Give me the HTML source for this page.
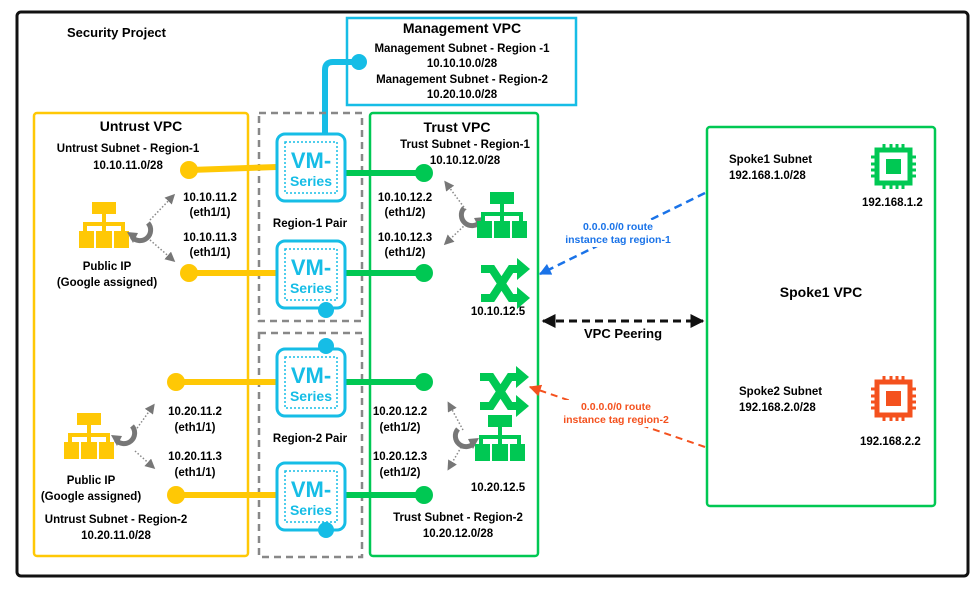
<!DOCTYPE html>
<html><head><meta charset="utf-8"><style>
html,body{margin:0;padding:0;background:#fff;}
svg{display:block;font-family:"Liberation Sans",sans-serif;font-weight:bold;}
</style></head><body>
<svg width="975" height="592" viewBox="0 0 975 592" xmlns="http://www.w3.org/2000/svg">
<defs>
<g id="net">
<rect x="13" y="0" width="24" height="12"/><rect x="23" y="11" width="4" height="11"/>
<rect x="4" y="20" width="42" height="4"/>
<rect x="4" y="22" width="4" height="8"/><rect x="23" y="22" width="4" height="8"/><rect x="42" y="22" width="4" height="8"/>
<rect x="0" y="29" width="15" height="17"/><rect x="17" y="29" width="16" height="17"/><rect x="35" y="29" width="15" height="17"/>
</g>
<g id="shuf" fill="none" stroke-width="8">
<path d="M0,8 H11 L30,37 H40"/><path d="M0,37 H11 L30,8 H40"/>
</g>
<g id="shufh"><path d="M36,-3 L49,8 L36,19Z"/><path d="M36,26 L49,37 L36,48Z"/></g>
<g id="chip">
<rect x="6" y="6" width="33" height="33" fill="none" stroke-width="5"/><rect x="15" y="15" width="15" height="15" stroke="none"/>
<path d="M13,0V6M20,0V6M26,0V6M32,0V6M13,39V45M20,39V45M26,39V45M32,39V45M0,13H6M0,20H6M0,26H6M0,32H6M39,13H45M39,20H45M39,26H45M39,32H45" fill="none" stroke-width="3"/>
</g>
<g id="vm">
<rect x="0" y="0" width="68" height="67" rx="8" fill="#fff" stroke="#16bde6" stroke-width="3"/>
<rect x="8" y="8" width="52" height="51" fill="none" stroke="#16bde6" stroke-width="1.5" stroke-dasharray="2,2"/>
<text x="34" y="34" font-size="22" fill="#16bde6" text-anchor="middle" font-weight="bold">VM-</text>
<text x="34" y="52" font-size="14" fill="#16bde6" text-anchor="middle" font-weight="bold">Series</text>
</g>
<g id="ref" fill="none" stroke="#777">
<path d="M7,-8 A10.5,10.5 0 1 1 -9,6" stroke-width="5"/>
<path d="M-14,1 L-8,12 L-3,2Z" fill="#777" stroke="none"/>
</g>
<marker id="ga" markerWidth="10" markerHeight="10" refX="7" refY="5" orient="auto" markerUnits="userSpaceOnUse" viewBox="0 0 10 10"><path d="M0,0L10,5L0,10Z" fill="#777"/></marker>
<marker id="ba" viewBox="0 0 10 10" refX="9" refY="5" markerWidth="12" markerHeight="12" orient="auto" markerUnits="userSpaceOnUse"><path d="M0,0L10,5L0,10Z" fill="#1a73e8"/></marker>
<marker id="oa" viewBox="0 0 10 10" refX="9" refY="5" markerWidth="12" markerHeight="12" orient="auto" markerUnits="userSpaceOnUse"><path d="M0,0L10,5L0,10Z" fill="#f4511e"/></marker>
<marker id="ka" viewBox="0 0 10 10" refX="9" refY="5" markerWidth="14" markerHeight="14" orient="auto-start-reverse" markerUnits="userSpaceOnUse"><path d="M0,0L10,5L0,10Z" fill="#111"/></marker>
</defs>

<rect x="17" y="12" width="951" height="564" rx="4" fill="#fff" stroke="#111" stroke-width="3"/>
<text x="67" y="37" font-size="13">Security Project</text>

<!-- management -->
<rect x="347" y="18" width="229" height="87" fill="#fff" stroke="#16bde6" stroke-width="2.5"/>
<g font-size="11.5" text-anchor="middle">
<text x="462" y="33" font-size="14">Management VPC</text>
<text x="462" y="52">Management Subnet - Region -1</text>
<text x="462" y="67">10.10.10.0/28</text>
<text x="462" y="83">Management Subnet - Region-2</text>
<text x="462" y="98">10.20.10.0/28</text>
</g>
<path d="M325,134 V70 Q325,62 333,62 H357" fill="none" stroke="#16bde6" stroke-width="6"/>
<circle cx="359" cy="62" r="8" fill="#16bde6"/>

<!-- containers -->
<rect x="34" y="113" width="214" height="443" rx="3" fill="none" stroke="#ffc805" stroke-width="2.5"/>
<rect x="259" y="113" width="103" height="208" fill="none" stroke="#888" stroke-width="2.5" stroke-dasharray="7,5"/>
<rect x="259" y="333" width="103" height="224" fill="none" stroke="#888" stroke-width="2.5" stroke-dasharray="7,5"/>
<rect x="370" y="113" width="168" height="443" rx="3" fill="none" stroke="#00c853" stroke-width="2.5"/>
<rect x="707" y="127" width="228" height="379" rx="3" fill="none" stroke="#00c853" stroke-width="2.5"/>

<!-- lines -->
<g stroke-width="6">
<path d="M190,170 L277,167" stroke="#ffc805"/><path d="M190,273 H277" stroke="#ffc805"/>
<path d="M176,382 H277" stroke="#ffc805"/><path d="M176,495 H277" stroke="#ffc805"/>
<path d="M345,173 H423" stroke="#00c853"/><path d="M345,273 H423" stroke="#00c853"/>
<path d="M345,382 H423" stroke="#00c853"/><path d="M345,495 H423" stroke="#00c853"/>
</g>
<g fill="#ffc805"><circle cx="189" cy="170" r="9"/><circle cx="189" cy="273" r="9"/><circle cx="176" cy="382" r="9"/><circle cx="176" cy="495" r="9"/></g>
<g fill="#00c853"><circle cx="424" cy="173" r="9"/><circle cx="424" cy="273" r="9"/><circle cx="424" cy="382" r="9"/><circle cx="424" cy="495" r="9"/></g>

<use href="#vm" x="277" y="134"/><use href="#vm" x="277" y="241"/>
<use href="#vm" x="277" y="349"/><use href="#vm" x="277" y="463"/>
<g fill="#16bde6"><circle cx="326" cy="310" r="8"/><circle cx="326" cy="346" r="8"/><circle cx="326" cy="530" r="8"/></g>
<g font-size="11.5" text-anchor="middle">
<text x="310" y="227">Region-1 Pair</text>
<text x="310" y="442">Region-2 Pair</text>
</g>

<!-- untrust text -->
<g font-size="11.5" text-anchor="middle">
<text x="141" y="131" font-size="14">Untrust VPC</text>
<text x="128" y="152">Untrust Subnet - Region-1</text>
<text x="128" y="169">10.10.11.0/28</text>
<text x="210" y="201">10.10.11.2</text><text x="210" y="216">(eth1/1)</text>
<text x="210" y="241">10.10.11.3</text><text x="210" y="256">(eth1/1)</text>
<text x="107" y="270">Public IP</text><text x="107" y="286">(Google assigned)</text>
<text x="195" y="415">10.20.11.2</text><text x="195" y="431">(eth1/1)</text>
<text x="195" y="460">10.20.11.3</text><text x="195" y="476">(eth1/1)</text>
<text x="91" y="484">Public IP</text><text x="91" y="500">(Google assigned)</text>
<text x="116" y="523">Untrust Subnet - Region-2</text>
<text x="116" y="539">10.20.11.0/28</text>
</g>
<g fill="#ffc805"><use href="#net" x="79" y="202"/><use href="#net" x="64" y="413"/></g>
<g stroke="#888" stroke-width="1.5" stroke-dasharray="1.5,2" fill="none" marker-end="url(#ga)">
<path d="M150,220 L173,196"/><path d="M150,240 L173,260"/>
<path d="M135,431 L153,406"/><path d="M135,451 L153,467"/>
<path d="M466,210 L446,183"/><path d="M466,224 L446,243"/>
<path d="M463,430 L449,404"/><path d="M463,444 L449,468"/>
</g>
<use href="#ref" x="141" y="231"/><use href="#ref" x="125" y="434"/>
<use href="#ref" x="471" y="216" transform="translate(942,0) scale(-1,1)"/>
<use href="#ref" x="465" y="437" transform="translate(930,0) scale(-1,1)"/>

<!-- trust text -->
<g font-size="11.5" text-anchor="middle">
<text x="457" y="132" font-size="14">Trust VPC</text>
<text x="465" y="148">Trust Subnet - Region-1</text>
<text x="465" y="164">10.10.12.0/28</text>
<text x="405" y="201">10.10.12.2</text><text x="405" y="216">(eth1/2)</text>
<text x="405" y="241">10.10.12.3</text><text x="405" y="256">(eth1/2)</text>
<text x="498" y="315">10.10.12.5</text>
<text x="400" y="415">10.20.12.2</text><text x="400" y="431">(eth1/2)</text>
<text x="400" y="460">10.20.12.3</text><text x="400" y="476">(eth1/2)</text>
<text x="498" y="491">10.20.12.5</text>
<text x="458" y="521">Trust Subnet - Region-2</text>
<text x="458" y="537">10.20.12.0/28</text>
</g>
<g fill="#00c853"><use href="#net" x="477" y="192"/><use href="#net" x="475" y="415"/></g>
<g stroke="#00c853" fill="#00c853"><use href="#shuf" x="481" y="261"/><use href="#shufh" x="481" y="261" stroke="none"/>
<use href="#shuf" x="480" y="369"/><use href="#shufh" x="480" y="369" stroke="none"/></g>

<!-- peering -->
<path d="M543,321 H703" stroke="#111" stroke-width="3" stroke-dasharray="8,5" marker-start="url(#ka)" marker-end="url(#ka)"/>
<text x="623" y="338" font-size="13" text-anchor="middle">VPC Peering</text>
<path d="M705,193 L540,274" stroke="#1a73e8" stroke-width="2.5" stroke-dasharray="8,5" fill="none" marker-end="url(#ba)"/>
<rect x="560" y="220" width="116" height="27" fill="#fff"/>
<g font-size="10.5" text-anchor="middle" fill="#1a73e8"><text x="618" y="230">0.0.0.0/0 route</text><text x="618" y="243">instance tag region-1</text></g>
<path d="M705,447 L530,387" stroke="#f4511e" stroke-width="2" stroke-dasharray="7,5" fill="none" marker-end="url(#oa)"/>
<rect x="558" y="400" width="116" height="27" fill="#fff"/>
<g font-size="10.5" text-anchor="middle" fill="#f4511e"><text x="616" y="410">0.0.0.0/0 route</text><text x="616" y="423">instance tag region-2</text></g>

<!-- spoke -->
<g font-size="11.5">
<text x="729" y="163">Spoke1 Subnet</text><text x="729" y="179">192.168.1.0/28</text>
<text x="862" y="206">192.168.1.2</text>
<text x="821" y="297" font-size="14" text-anchor="middle">Spoke1 VPC</text>
<text x="739" y="395">Spoke2 Subnet</text><text x="739" y="411">192.168.2.0/28</text>
<text x="860" y="445">192.168.2.2</text>
</g>
<g stroke="#00c853" fill="#00c853"><use href="#chip" x="871" y="144"/></g>
<g stroke="#f4511e" fill="#f4511e"><use href="#chip" x="871" y="376"/></g>
</svg>
</body></html>
